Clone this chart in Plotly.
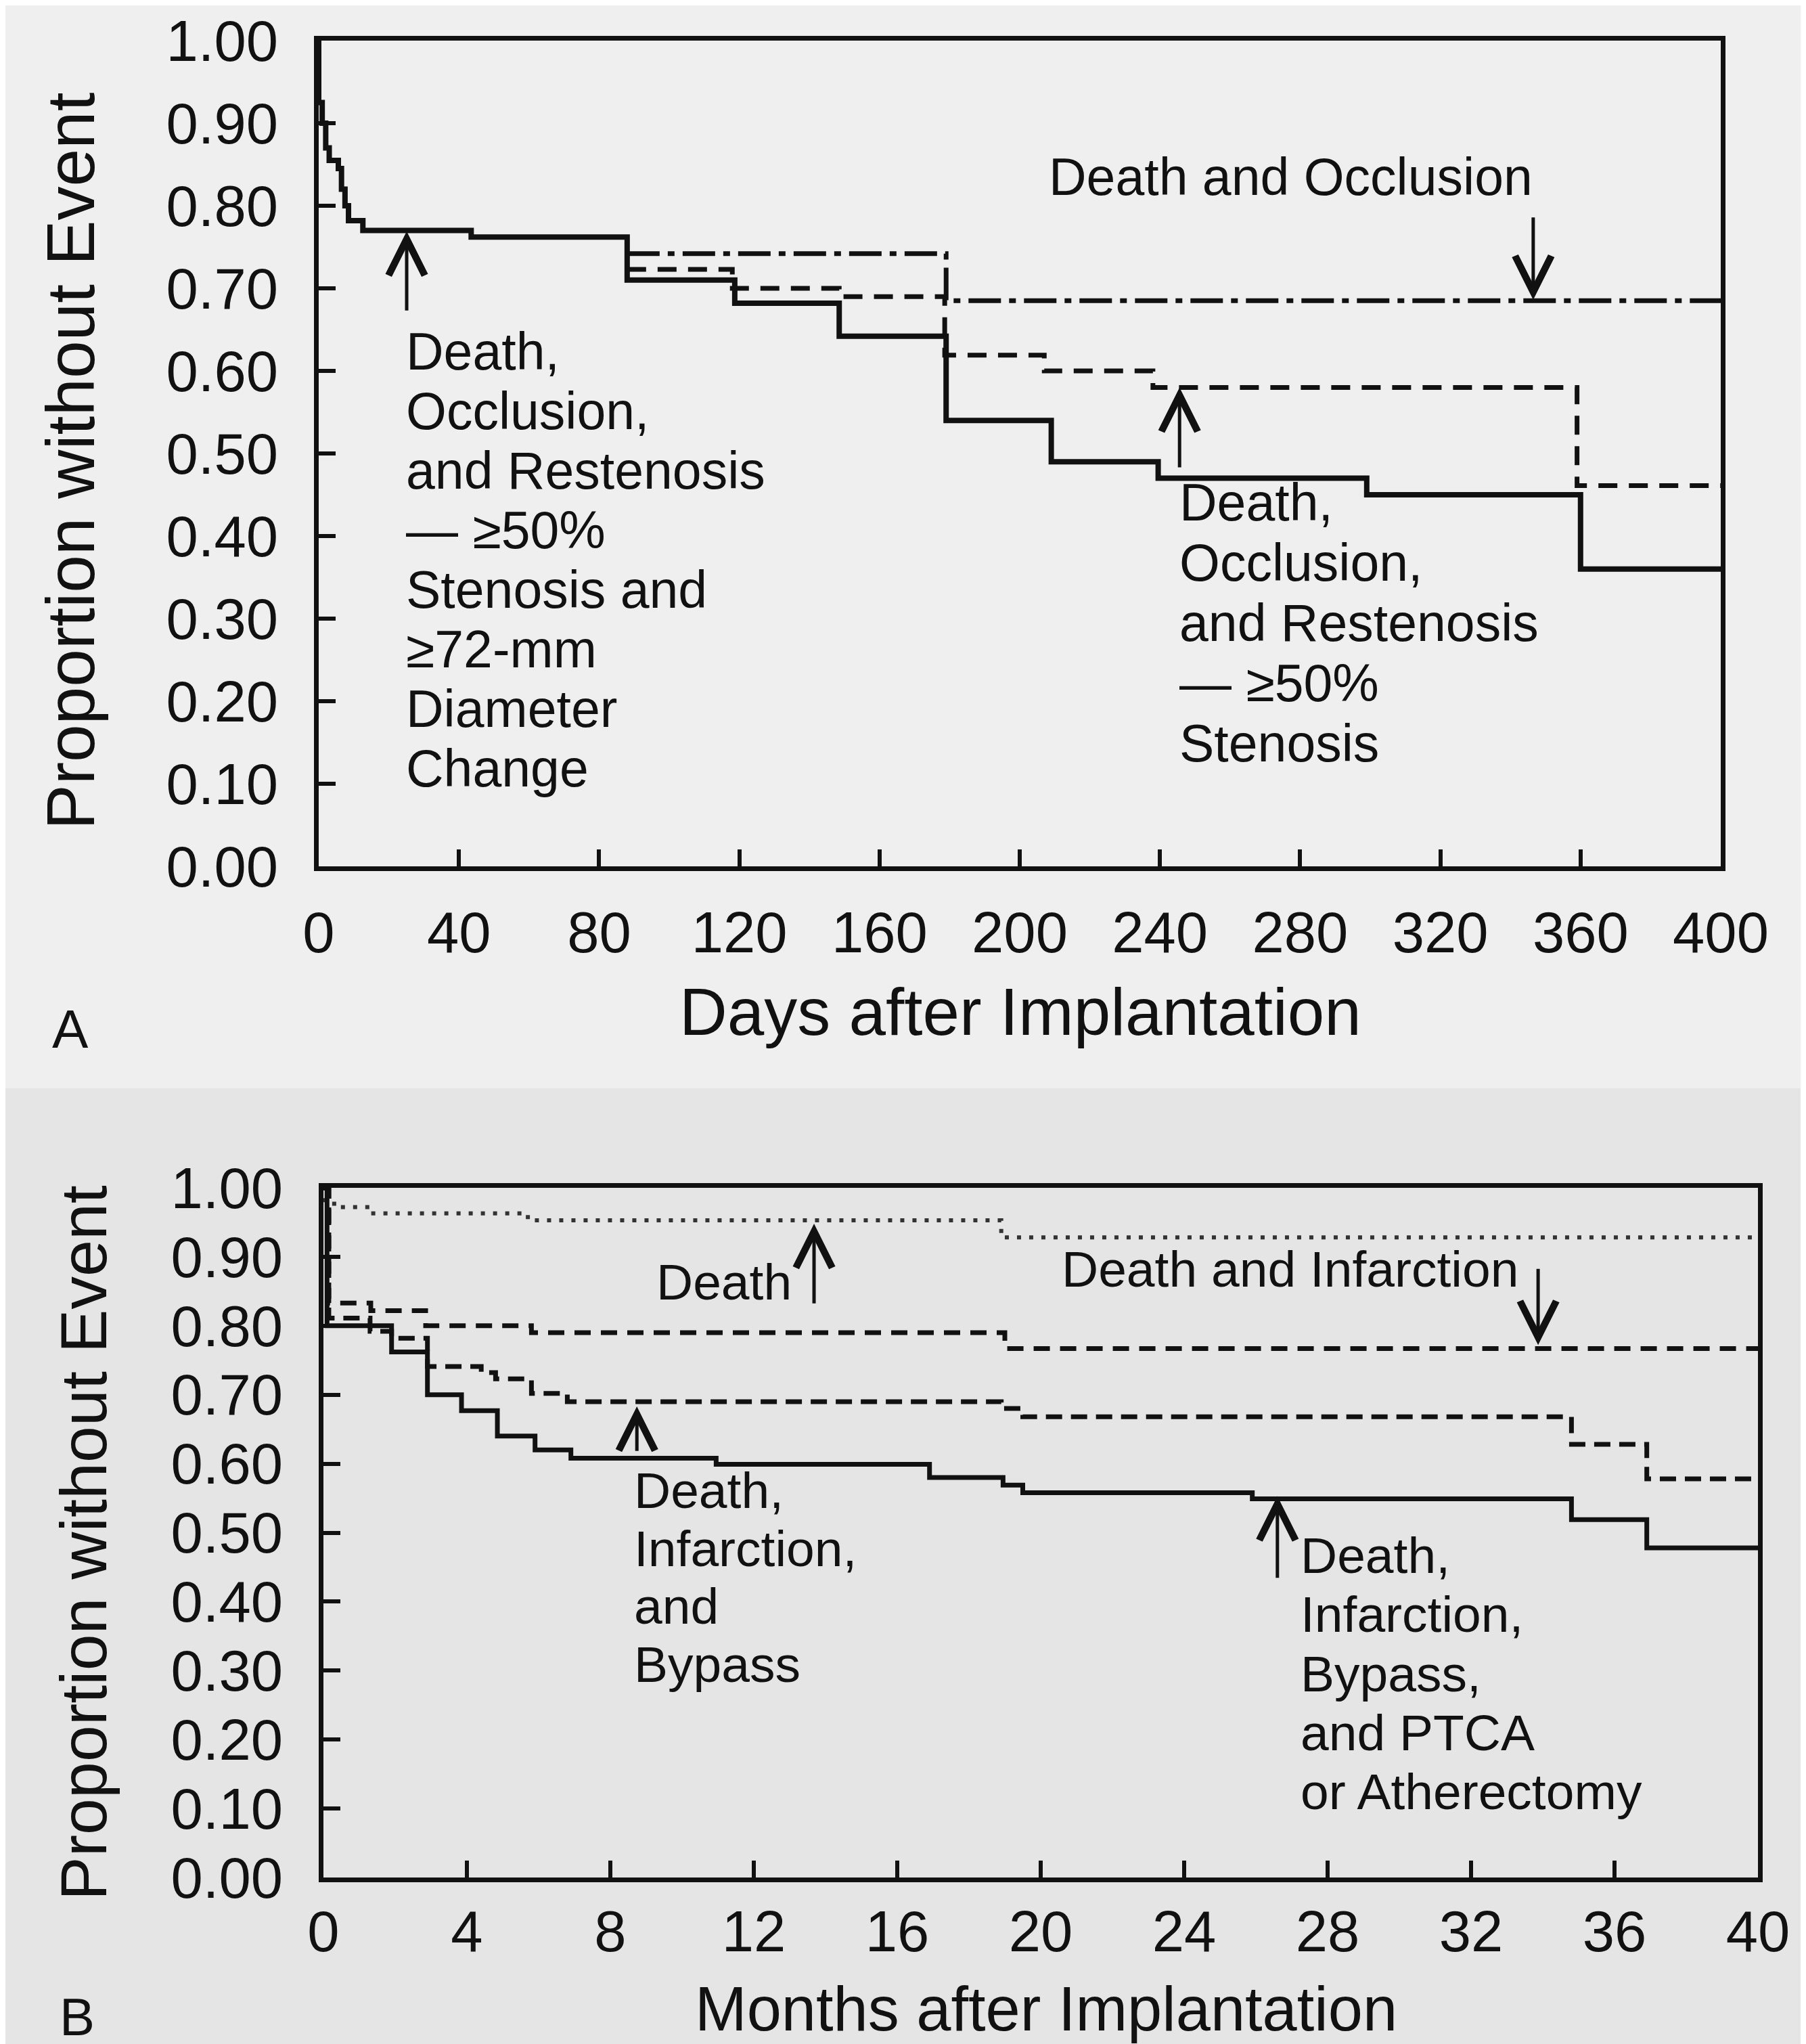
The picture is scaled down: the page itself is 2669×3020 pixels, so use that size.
import plotly.graph_objects as go

W, H = 2669, 3020
FONT = "Liberation Sans, Arial, Helvetica, sans-serif"

# ---------------- Panel A data (days after implantation) ----------------
a_solid_days = [0, 0, 1, 2, 3, 5.6, 6.5, 7.5, 8.5, 12.6, 43.5, 88, 118.7, 148.5, 179, 209, 239.5, 299, 360, 400]
a_solid_vals = [1.0, 0.925, 0.90, 0.87, 0.855, 0.845, 0.82, 0.80, 0.782, 0.77, 0.762, 0.71, 0.682, 0.642, 0.54, 0.49, 0.47, 0.45, 0.36, 0.36]
a_dashed_days = [88, 118, 148.5, 178.6, 207, 238, 359, 400]
a_dashed_vals = [0.723, 0.70, 0.69, 0.619, 0.60, 0.58, 0.461, 0.461]
a_dashdot_days = [88, 179, 400]
a_dashdot_vals = [0.742, 0.685, 0.685]

# ---------------- Panel B data (months after implantation) ----------------
b_death_months = [0, 0.3, 1.3, 5.7, 18.9, 40]
b_death_vals = [0.982, 0.972, 0.963, 0.953, 0.928, 0.928]
b_di_months = [0, 0.15, 1.32, 2.85, 5.8, 19.0, 40]
b_di_vals = [1.0, 0.833, 0.822, 0.80, 0.79, 0.767, 0.767]
b_dib_months = [0, 0.15, 1.3, 1.9, 2.9, 4.4, 4.8, 5.8, 6.8, 18.9, 19.5, 34.8, 36.9, 40]
b_dib_vals = [1.0, 0.811, 0.792, 0.782, 0.741, 0.732, 0.723, 0.702, 0.69, 0.68, 0.668, 0.628, 0.578, 0.578]
b_all_months = [0, 0.1, 1.9, 2.9, 3.85, 4.85, 5.9, 6.9, 10.95, 16.9, 18.95, 19.5, 25.9, 34.8, 36.9, 40]
b_all_vals = [1.0, 0.80, 0.762, 0.70, 0.677, 0.64, 0.62, 0.608, 0.599, 0.58, 0.569, 0.558, 0.549, 0.519, 0.478, 0.478]

# ---------------- ticks ----------------
y_tick_vals = [0.0, 0.1, 0.2, 0.3, 0.4, 0.5, 0.6, 0.7, 0.8, 0.9, 1.0]
y_tick_text = ["0.00", "0.10", "0.20", "0.30", "0.40", "0.50", "0.60", "0.70", "0.80", "0.90", "1.00"]
a_x_ticks = [0, 40, 80, 120, 160, 200, 240, 280, 320, 360, 400]
b_x_ticks = [0, 4, 8, 12, 16, 20, 24, 28, 32, 36, 40]

# ---------------- texts ----------------
y_title = "Proportion without Event"
a_x_title = "Days after Implantation"
b_x_title = "Months after Implantation"
a_left_label = ["Death,", "Occlusion,", "and Restenosis", "— ≥50%", "Stenosis and", "≥72-mm", "Diameter", "Change"]
a_right_label = ["Death,", "Occlusion,", "and Restenosis", "— ≥50%", "Stenosis"]
a_top_label = "Death and Occlusion"
b_death_label = "Death"
b_di_label = "Death and Infarction"
b_dib_label = ["Death,", "Infarction,", "and", "Bypass"]
b_all_label = ["Death,", "Infarction,", "Bypass,", "and PTCA", "or Atherectomy"]


def px(x):
    return x / W


def py(y):
    return 1 - y / H


fig = go.Figure()

INK = "#111111"

# Panel A traces
fig.add_trace(go.Scatter(x=a_dashdot_days, y=a_dashdot_vals, mode="lines", line_shape="hv",
                         line=dict(color=INK, width=7, dash="48px,12px,10px,12px"),
                         xaxis="x", yaxis="y", showlegend=False))
fig.add_trace(go.Scatter(x=a_dashed_days, y=a_dashed_vals, mode="lines", line_shape="hv",
                         line=dict(color=INK, width=7, dash="28px,17px"),
                         xaxis="x", yaxis="y", showlegend=False))
fig.add_trace(go.Scatter(x=a_solid_days, y=a_solid_vals, mode="lines", line_shape="hv",
                         line=dict(color=INK, width=8),
                         xaxis="x", yaxis="y", showlegend=False))

# Panel B traces
fig.add_trace(go.Scatter(x=b_death_months, y=b_death_vals, mode="lines", line_shape="hv",
                         line=dict(color="#333333", width=6, dash="6px,12px"),
                         xaxis="x2", yaxis="y2", showlegend=False))
fig.add_trace(go.Scatter(x=b_di_months, y=b_di_vals, mode="lines", line_shape="hv",
                         line=dict(color=INK, width=7, dash="24px,15px"),
                         xaxis="x2", yaxis="y2", showlegend=False))
fig.add_trace(go.Scatter(x=b_dib_months, y=b_dib_vals, mode="lines", line_shape="hv",
                         line=dict(color=INK, width=7, dash="24px,13px"),
                         xaxis="x2", yaxis="y2", showlegend=False))
fig.add_trace(go.Scatter(x=b_all_months, y=b_all_vals, mode="lines", line_shape="hv",
                         line=dict(color=INK, width=7),
                         xaxis="x2", yaxis="y2", showlegend=False))

axis_common = dict(showline=True, mirror=True, linecolor=INK, linewidth=7,
                   ticks="inside", ticklen=25, tickwidth=6, tickcolor=INK,
                   showgrid=False, zeroline=False, automargin=False,
                   tickfont=dict(family=FONT, size=85, color=INK))

# domains from pixel positions of the frames
a_left, a_right, a_top, a_bottom = 463, 2535, 52, 1272
b_left, b_right, b_top, b_bottom = 470, 2590, 1747, 2766

fig.update_layout(
    width=W, height=H,
    margin=dict(l=0, r=0, t=0, b=0),
    paper_bgcolor="#efefef",
    plot_bgcolor="rgba(0,0,0,0)",
    font=dict(family=FONT, color=INK),
    xaxis=dict(axis_common, domain=[px(a_left), px(a_right)], range=[0, 400],
               tickvals=a_x_ticks, ticklabelstandoff=18, anchor="y"),
    yaxis=dict(axis_common, domain=[py(a_bottom), py(a_top)], range=[0, 1],
               tickvals=y_tick_vals, ticktext=y_tick_text, ticklabelstandoff=36, anchor="x"),
    xaxis2=dict(axis_common, domain=[px(b_left), px(b_right)], range=[0, 40],
                tickvals=b_x_ticks, ticklabelstandoff=0, anchor="y2"),
    yaxis2=dict(axis_common, domain=[py(b_bottom), py(b_top)], range=[0, 1],
                tickvals=y_tick_vals, ticktext=y_tick_text, ticklabelstandoff=36, anchor="x2"),
)

# darker scan background for lower half
fig.add_shape(type="rect", xref="paper", yref="paper", x0=0, x1=1, y0=0, y1=py(1600),
              fillcolor="#e5e5e5", line_width=0, layer="below")

ann = []


def text(x, y, s, size, xref, yref, xanchor="left", **kw):
    ann.append(dict(x=x, y=y, xref=xref, yref=yref, text=s, showarrow=False,
                    xanchor=xanchor, yanchor="middle",
                    font=dict(family=FONT, size=size, color=INK), **kw))


def block(x, y0, step, lines, size, xref, yref):
    for i, s in enumerate(lines):
        text(x, y0 - i * step, s, size, xref, yref)


def arrow(x, y_tip, y_tail, xref, yref):
    ann.append(dict(x=x, y=y_tip, ax=x, ay=y_tail, xref=xref, yref=yref,
                    axref=xref, ayref=yref, text="", showarrow=True,
                    arrowhead=5, arrowsize=2.1, arrowwidth=5, arrowcolor=INK, standoff=0,
                    startstandoff=0))


# Panel A labels
block(24.5, 0.624, 0.0722, a_left_label, 77, "x", "y")
block(245.2, 0.441, 0.0730, a_right_label, 77, "x", "y")
text(277.3, 0.835, a_top_label, 77, "x", "y", xanchor="center")
arrow(25.1, 0.769, 0.672, "x", "y")
arrow(245.6, 0.58, 0.482, "x", "y")
arrow(346.5, 0.686, 0.787, "x", "y")

# Panel B labels
text(9.25, 0.864, b_death_label, 75, "x2", "y2")
text(20.55, 0.882, b_di_label, 75, "x2", "y2")
block(8.63, 0.561, 0.0838, b_dib_label, 75, "x2", "y2")
block(27.2, 0.467, 0.0857, b_all_label, 75, "x2", "y2")
arrow(13.68, 0.948, 0.831, "x2", "y2")
arrow(33.87, 0.772, 0.884, "x2", "y2")
arrow(8.74, 0.683, 0.617, "x2", "y2")
arrow(26.6, 0.553, 0.433, "x2", "y2")

# axis titles and panel letters
text(px(96), py(673), y_title, 100, "paper", "paper", xanchor="center", textangle=-90)
text(px(1500), py(1487), a_x_title, 98, "paper", "paper", xanchor="center")
text(px(115), py(2272), y_title, 97, "paper", "paper", xanchor="center", textangle=-90)
text(px(1538), py(2960), b_x_title, 92, "paper", "paper", xanchor="center")
text(px(96), py(1512), "A", 80, "paper", "paper", xanchor="center")
text(px(106), py(2972), "B", 78, "paper", "paper", xanchor="center")

fig.update_layout(annotations=ann)

fig.write_html("out.html")
